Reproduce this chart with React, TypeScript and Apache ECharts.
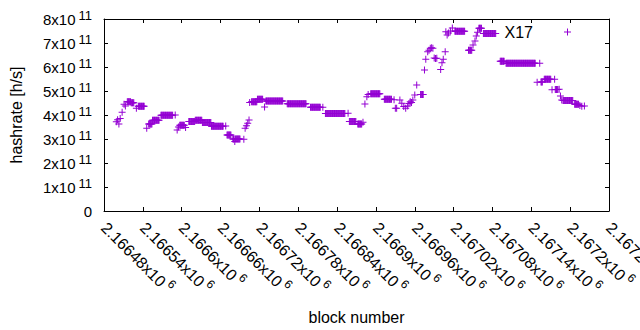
import React, { useEffect, useRef } from "react";
import * as echarts from "echarts";

// block numbers are offsets from this base block
const BASE_BLOCK = 2166480;

// runs of consecutive blocks sharing one hashrate estimate (single blocks have from === to)
const runFrom = [
  19, 21, 23, 25, 28, 31, 33, 36, 42, 50, 53, 66, 69, 75, 88, 110, 113, 115, 117, 126,
  131, 141, 152, 166, 188, 190, 199, 202, 203, 216, 218, 220, 222, 224, 225, 228, 237, 248, 250, 283,
  319, 338, 342, 377, 379, 392, 400, 403, 406, 408, 412, 433, 448, 450, 452, 457, 460, 463, 466, 469,
  471, 473, 475, 477, 480, 483, 489, 495, 497, 500, 502, 504, 506, 508, 510, 512, 514, 520, 522, 524,
  527, 528, 530, 532, 535, 538, 542, 563, 570, 573, 575, 577, 579, 586, 612, 621, 669, 673, 675, 680,
  692, 696, 697, 703, 705, 707, 709, 727, 735, 738, 742,
];
const runTo = [
  19, 21, 23, 25, 28, 31, 33, 41, 46, 50, 62, 66, 74, 85, 106, 110, 113, 115, 124, 126,
  140, 151, 165, 184, 188, 196, 201, 202, 210, 216, 218, 220, 222, 224, 225, 236, 245, 248, 276, 312,
  334, 338, 372, 377, 389, 398, 400, 403, 406, 408, 426, 444, 448, 450, 452, 457, 460, 463, 466, 469,
  471, 473, 475, 477, 480, 483, 493, 495, 497, 500, 502, 504, 506, 508, 510, 512, 514, 520, 522, 524,
  527, 528, 530, 532, 535, 538, 557, 568, 570, 573, 575, 577, 583, 605, 618, 666, 669, 673, 677, 690,
  692, 696, 701, 703, 705, 707, 724, 733, 735, 738, 742,
];
// hashrate in units of 1e11 h/s
const runHashrate = [
  3.72, 3.8, 3.62, 3.85, 4.11, 4.45, 4.38, 4.55, 4.51, 4.28, 4.36, 3.45, 3.63, 3.78, 3.99, 4.0, 3.38, 3.5, 3.57, 3.48,
  3.73, 3.78, 3.69, 3.53, 3.54, 3.17, 3.0, 2.9, 3.0, 2.99, 3.45, 3.55, 3.66, 3.79, 4.52, 4.55, 4.66, 4.33, 4.58, 4.47,
  4.32, 4.32, 4.06, 4.07, 3.73, 3.63, 3.7, 4.46, 4.76, 4.85, 4.89, 4.66, 4.64, 4.28, 4.28, 4.62, 4.49, 4.35, 4.28, 4.38,
  4.48, 4.55, 4.52, 4.62, 4.83, 5.25, 4.85, 5.88, 6.32, 6.64, 6.7, 6.78, 6.8, 6.78, 6.38, 6.35, 6.36, 5.9, 6.18, 6.32,
  6.64, 7.47, 7.33, 7.42, 7.5, 7.63, 7.49, 6.7, 6.92, 7.08, 7.29, 7.45, 7.61, 7.4, 6.24, 6.16, 5.36, 6.16, 5.37, 5.49,
  5.05, 5.49, 5.06, 5.07, 4.79, 4.62, 4.6, 4.45, 4.4, 4.36, 4.37,
];

const X_MIN = 2166480;
const X_MAX = 2167260;
const X_STEP = 60;
const Y_MIN = 0;
const Y_MAX = 8e11;
const Y_STEP = 1e11;
const SERIES_NAME = "X17";

const FONT = "Liberation Sans";
const COLOR = "#9400D3";
const PLUS = "path://M3,0H4V3H7V4H4V7H3V4H0V3H3Z";

function buildPoints(): [number, number][] {
  const pts: [number, number][] = [];
  for (let i = 0; i < runFrom.length; i++) {
    for (let b = runFrom[i]; b <= runTo[i]; b++) {
      pts.push([BASE_BLOCK + b, runHashrate[i] * 1e11]);
    }
  }
  return pts;
}

export default function App() {
  const ref = useRef<HTMLDivElement>(null);
  useEffect(() => {
    if (!ref.current) return;
    const chart = echarts.init(ref.current, undefined, { renderer: "svg" });
    const fs = 16;
    const axisCommon = {
      axisLine: { show: true, onZero: false, lineStyle: { color: "#000", width: 1 } },
      axisTick: { show: true, inside: true, length: 4, lineStyle: { color: "#000", width: 1 } },
      splitLine: { show: false },
    };
    chart.setOption({
      animation: false,
      textStyle: { fontFamily: FONT },
      grid: { left: 104, right: 31, top: 19, bottom: 119, containLabel: false, outerBoundsMode: "none" },
      legend: {
        show: true,
        data: [SERIES_NAME],
        right: 69,
        top: 24,
        padding: 0,
        align: "right",
        itemWidth: 7,
        itemHeight: 7,
        icon: PLUS,
        textStyle: { fontFamily: FONT, fontSize: fs, color: "#000", padding: [0, 26, 0, 0], lineHeight: 16 },
      },
      xAxis: [
        {
          type: "value",
          min: X_MIN,
          max: X_MAX,
          interval: X_STEP,
          position: "bottom",
          ...axisCommon,
          axisLabel: {
            show: true,
            rotate: -45,
            margin: 14,
            color: "#000",
            fontFamily: FONT,
            fontSize: fs,
            showMinLabel: true,
            showMaxLabel: true,
            hideOverlap: false,
            formatter: (v: number) => {
              const s = parseFloat((v / 1e6).toFixed(5)).toString();
              return `${s}x10{s|6}`;
            },
            rich: {
              s: { fontSize: 12, fontFamily: FONT, color: "#000", padding: [0, 0, 12, 3] },
            },
          },
          name: "block number",
          nameLocation: "middle",
          nameGap: 98,
          nameTextStyle: { fontFamily: FONT, fontSize: fs, color: "#000" },
        },
        {
          type: "value",
          min: X_MIN,
          max: X_MAX,
          interval: X_STEP,
          position: "top",
          ...axisCommon,
          axisLabel: { show: false },
        },
      ],
      yAxis: [
        {
          type: "value",
          min: Y_MIN,
          max: Y_MAX,
          interval: Y_STEP,
          position: "left",
          ...axisCommon,
          axisLabel: {
            show: true,
            margin: 12,
            color: "#000",
            fontFamily: FONT,
            fontSize: 15,
            formatter: (v: number) => (v === 0 ? "0" : `${Math.round(v / 1e11)}x10{s|11}`),
            rich: {
              s: { fontSize: 13, fontFamily: FONT, color: "#000", padding: [0, 0, 8, 3] },
            },
          },
          name: "hashrate [h/s]",
          nameLocation: "middle",
          nameGap: 80,
          nameTextStyle: { fontFamily: FONT, fontSize: fs, color: "#000" },
        },
        {
          type: "value",
          min: Y_MIN,
          max: Y_MAX,
          interval: Y_STEP,
          position: "right",
          ...axisCommon,
          axisLabel: { show: false },
        },
      ],
      series: [
        {
          type: "scatter",
          name: SERIES_NAME,
          xAxisIndex: 0,
          yAxisIndex: 0,
          data: buildPoints(),
          symbol: PLUS,
          symbolSize: 7,
          itemStyle: { color: COLOR, opacity: 1 },
          emphasis: { disabled: true },
          clip: false,
        },
      ],
    });
    return () => chart.dispose();
  }, []);
  return <div ref={ref} style={{ width: 640, height: 330, position: "absolute", left: 0, top: 0 }} />;
}
